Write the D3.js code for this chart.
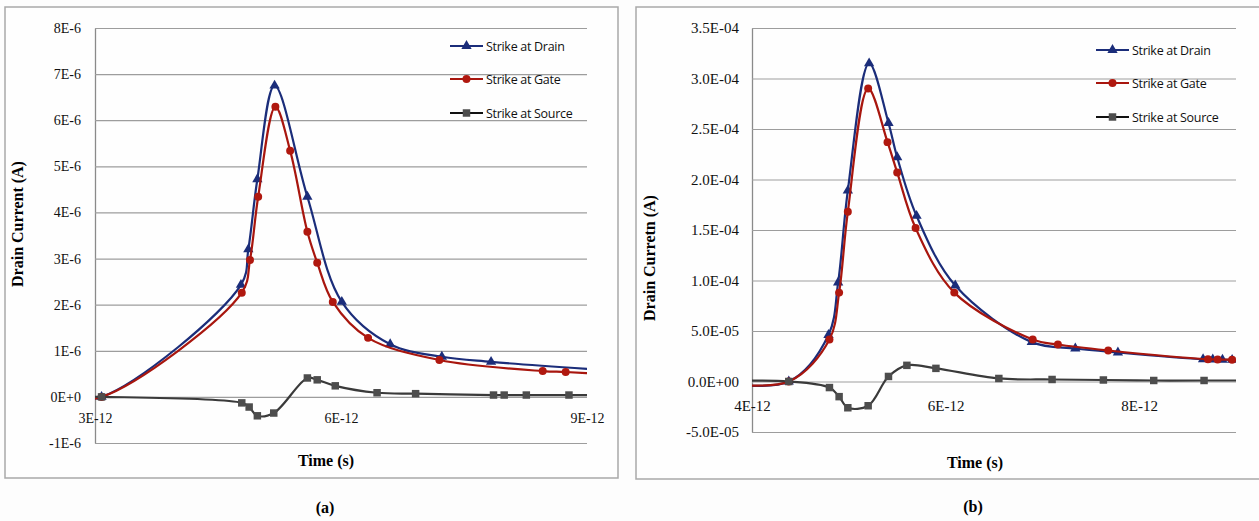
<!DOCTYPE html>
<html>
<head>
<meta charset="utf-8">
<script src="https://cdn.jsdelivr.net/npm/d3@7"></script>
<style>
  body { margin: 0; background: #fdfdfd; }
  svg { display: block; }
  .serif { font-family: "Liberation Serif", "Times New Roman", Tinos, "DejaVu Serif", serif; }
  .sans { font-family: "Open Sans", Roboto, sans-serif; }
</style>
</head>
<body>
<script>
// ---- data: panel (a), time in 1E-12 s, current in 1E-6 A ----
const aDrainT  = [2.5, 3.08, 4.78, 4.87, 4.98, 5.19, 5.59, 6.01, 6.6, 7.23, 7.83, 9.3];
const aDrainI  = [0, 0, 2.43, 3.2, 4.72, 6.75, 4.34, 2.06, 1.14, 0.87, 0.76, 0.57];
const aGateT   = [2.5, 3.08, 4.79, 4.89, 4.99, 5.2, 5.38, 5.59, 5.71, 5.9, 6.33, 7.2, 8.46, 8.74, 9.3];
const aGateI   = [0, 0, 2.26, 2.97, 4.34, 6.29, 5.34, 3.58, 2.91, 2.06, 1.28, 0.8, 0.56, 0.54, 0.48];
const aSourceT = [2.5, 3.08, 4.79, 4.88, 4.98, 5.18, 5.59, 5.71, 5.93, 6.44, 6.91, 7.86, 7.99, 8.26, 8.78, 9.3];
const aSourceI = [0, 0, -0.13, -0.22, -0.41, -0.35, 0.41, 0.37, 0.24, 0.09, 0.07, 0.04, 0.04, 0.04, 0.04, 0.04];
const aYTicks  = [-1, 0, 1, 2, 3, 4, 5, 6, 7, 8];
const aYLabels = ["-1E-6", "0E+0", "1E-6", "2E-6", "3E-6", "4E-6", "5E-6", "6E-6", "7E-6", "8E-6"];
const aXTicks  = [3, 6, 9];
const aXLabels = ["3E-12", "6E-12", "9E-12"];

// ---- data: panel (b), time in 1E-12 s, current in 1E-5 A ----
const bDrainT  = [3.5, 4.38, 4.79, 4.89, 4.99, 5.21, 5.41, 5.5, 5.7, 6.1, 6.89, 7.34, 7.78, 8.66, 8.76, 8.86, 8.96];
const bDrainI  = [0, 0, 4.6, 9.8, 18.9, 31.5, 25.6, 22.2, 16.4, 9.5, 3.9, 3.27, 2.87, 2.2, 2.18, 2.16, 2.14];
const bGateT   = [3.5, 4.38, 4.8, 4.9, 4.99, 5.2, 5.4, 5.5, 5.69, 6.09, 6.9, 7.16, 7.68, 8.71, 8.81, 8.96];
const bGateI   = [0, 0, 4.16, 8.8, 16.8, 29.0, 23.7, 20.7, 15.2, 8.8, 4.16, 3.66, 3.07, 2.2, 2.18, 2.16];
const bSourceT = [3.5, 4.38, 4.8, 4.9, 4.99, 5.2, 5.41, 5.6, 5.9, 6.55, 7.1, 7.63, 8.15, 8.67, 9.3];
const bSourceI = [0, 0, -0.6, -1.5, -2.6, -2.4, 0.5, 1.6, 1.3, 0.3, 0.2, 0.15, 0.1, 0.1, 0.1];
const bYTicks  = [-5, 0, 5, 10, 15, 20, 25, 30, 35];
const bYLabels = ["-5.0E-05", "0.0E+00", "5.0E-05", "1.0E-04", "1.5E-04", "2.0E-04", "2.5E-04", "3.0E-04", "3.5E-04"];
const bXTicks  = [4, 6, 8];
const bXLabels = ["4E-12", "6E-12", "8E-12"];

const seriesNames = ["Strike at Drain", "Strike at Gate", "Strike at Source"];
const seriesColors = ["#1b2d7a", "#a8160e", "#3a3a3a"];
const markerFill = ["#1b2d7a", "#b0180f", "#4d4d4d"];
const markerTypes = [d3.symbolTriangle, d3.symbolCircle, d3.symbolSquare];
const markerSizes = [46, 50, 56];

const svg = d3.select("body").append("svg")
  .attr("width", 1259)
  .attr("height", 521);

function zip(t, v) { return t.map((d, i) => ({ t: d, v: v[i] })); }

function drawPanel(cfg) {
  // frame around the chart
  svg.append("rect")
    .attr("x", cfg.frame[0]).attr("y", cfg.frame[1])
    .attr("width", cfg.frame[2]).attr("height", cfg.frame[3])
    .attr("fill", "#fefefe")
    .attr("stroke", "#a9a9a9")
    .attr("stroke-width", 1.5);

  let x = d3.scaleLinear().domain(cfg.xDomain).range([cfg.left, cfg.right]);
  let y = d3.scaleLinear().domain(cfg.yDomain).range([cfg.bottom, cfg.top]);

  // y axis with gridlines
  let yAxis = d3.axisLeft(y)
    .tickValues(cfg.yTicks)
    .tickFormat((d) => cfg.yLabels[cfg.yTicks.indexOf(d)])
    .tickSizeInner(-(cfg.right - cfg.left))
    .tickSizeOuter(0)
    .tickPadding(cfg.yPad);
  let gy = svg.append("g")
    .attr("transform", `translate(${cfg.left},0)`)
    .call(yAxis)
    .attr("font-family", null)
    .attr("font-size", null);
  gy.select(".domain").attr("stroke", "#8a8a8a").attr("stroke-width", 1.3);
  gy.selectAll(".tick line").attr("stroke", "#9d9d9d").attr("stroke-width", 1.2);
  gy.selectAll(".tick text")
    .attr("class", "serif")
    .attr("fill", "#111")
    .style("font-size", cfg.tickFont + "px");

  // x labels sitting under the zero line
  let xAxis = d3.axisBottom(x)
    .tickValues(cfg.xTicks)
    .tickFormat((d) => cfg.xLabels[cfg.xTicks.indexOf(d)])
    .tickSize(0)
    .tickPadding(cfg.xPad);
  let gx = svg.append("g")
    .attr("transform", `translate(0,${y(0)})`)
    .call(xAxis)
    .attr("font-family", null)
    .attr("font-size", null);
  gx.select(".domain").remove();
  gx.selectAll(".tick text")
    .attr("class", "serif")
    .attr("fill", "#111")
    .style("font-size", cfg.tickFont + "px");

  // clip to plot area
  svg.append("clipPath").attr("id", cfg.id + "clip")
    .append("rect")
    .attr("x", cfg.left).attr("y", cfg.top - 10)
    .attr("width", cfg.right - cfg.left).attr("height", cfg.bottom - cfg.top + 20);

  let plot = svg.append("g").attr("clip-path", `url(#${cfg.id}clip)`);

  let line = d3.line()
    .x((d) => x(d.t))
    .y((d) => y(d.v))
    .curve(d3.curveCatmullRom.alpha(0.5));

  cfg.series.forEach((s, i) => {
    let pts = zip(s[0], s[1]);
    plot.append("path")
      .datum(pts)
      .attr("d", line)
      .attr("fill", "none")
      .attr("stroke", seriesColors[i])
      .attr("stroke-width", 2.2);
    plot.selectAll(".m" + i)
      .data(pts)
      .enter()
      .append("path")
      .attr("class", "m" + i)
      .attr("d", d3.symbol().type(markerTypes[i]).size(markerSizes[i]))
      .attr("transform", (d) => `translate(${x(d.t)},${y(d.v)})`)
      .attr("fill", markerFill[i]);
  });

  // legend
  seriesNames.forEach((name, i) => {
    let ly = cfg.legendY[i];
    let lx = cfg.legendX;
    svg.append("line")
      .attr("x1", lx).attr("x2", lx + 33)
      .attr("y1", ly).attr("y2", ly)
      .attr("stroke", i == 2 ? "#111" : seriesColors[i])
      .attr("stroke-width", 2.2);
    svg.append("path")
      .attr("d", d3.symbol().type(markerTypes[i]).size(markerSizes[i]))
      .attr("transform", `translate(${lx + 16.5},${ly})`)
      .attr("fill", markerFill[i]);
    svg.append("text")
      .attr("class", "sans")
      .attr("x", lx + 36).attr("y", ly + 4.5)
      .attr("fill", "#111")
      .style("font-size", "12.5px")
      .style("letter-spacing", "-0.3px")
      .text(name);
  });

  // axis titles and caption
  svg.append("text")
    .attr("class", "serif")
    .attr("transform", `translate(${cfg.yTitlePos[0]},${cfg.yTitlePos[1]}) rotate(-90)`)
    .attr("text-anchor", "middle")
    .style("font-weight", "bold")
    .style("font-size", "16px")
    .text(cfg.yTitle);
  svg.append("text")
    .attr("class", "serif")
    .attr("x", cfg.xTitlePos[0]).attr("y", cfg.xTitlePos[1])
    .attr("text-anchor", "middle")
    .style("font-weight", "bold")
    .style("font-size", "16px")
    .text("Time (s)");
  svg.append("text")
    .attr("class", "serif")
    .attr("x", cfg.captionPos[0]).attr("y", cfg.captionPos[1])
    .attr("text-anchor", "middle")
    .style("font-weight", "bold")
    .style("font-size", "16px")
    .text(cfg.caption);
}

drawPanel({
  id: "a",
  frame: [5, 7, 613, 471],
  left: 95, right: 587, top: 28, bottom: 443,
  xDomain: [3, 9], yDomain: [-1, 8],
  yTicks: aYTicks, yLabels: aYLabels, xTicks: aXTicks, xLabels: aXLabels,
  yPad: 14, xPad: 16, tickFont: 14,
  series: [[aDrainT, aDrainI], [aGateT, aGateI], [aSourceT, aSourceI]],
  legendX: 450, legendY: [46, 79, 113],
  yTitle: "Drain Current (A)", yTitlePos: [23, 224],
  xTitlePos: [326, 466],
  caption: "(a)", captionPos: [325, 513]
});

drawPanel({
  id: "b",
  frame: [636, 7, 640, 472],
  left: 752, right: 1236, top: 28, bottom: 432,
  xDomain: [4, 9], yDomain: [-5, 35],
  yTicks: bYTicks, yLabels: bYLabels, xTicks: bXTicks, xLabels: bXLabels,
  yPad: 13, xPad: 19, tickFont: 15,
  series: [[bDrainT, bDrainI], [bGateT, bGateI], [bSourceT, bSourceI]],
  legendX: 1096, legendY: [50, 83, 117],
  yTitle: "Drain Curretn (A)", yTitlePos: [655, 258],
  xTitlePos: [975, 468],
  caption: "(b)", captionPos: [973, 512]
});
</script>
</body>
</html>
